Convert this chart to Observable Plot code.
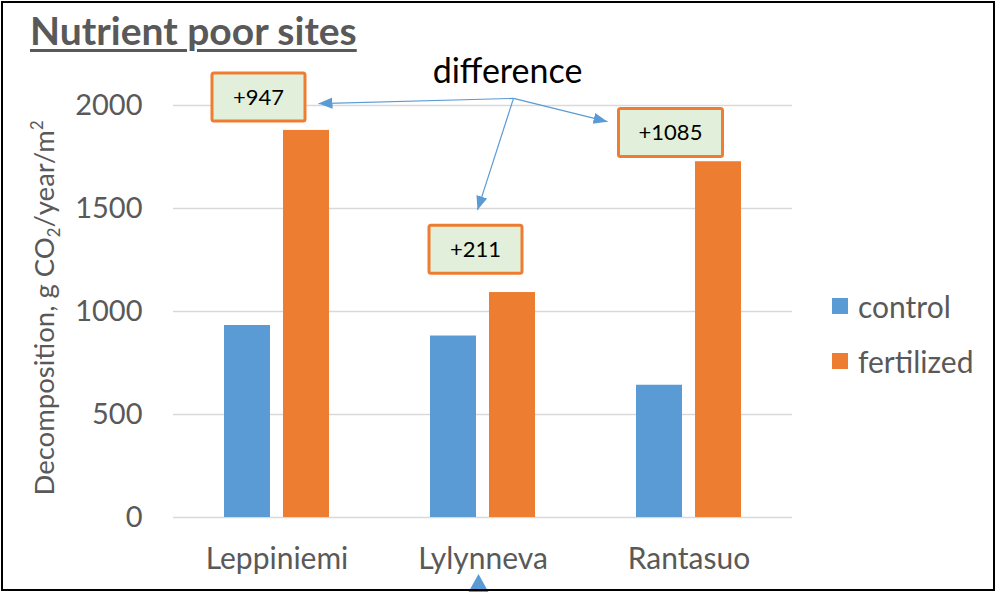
<!DOCTYPE html>
<html>
<head>
<meta charset="utf-8">
<script src="https://cdn.jsdelivr.net/npm/d3@7"></script>
<script src="https://cdn.jsdelivr.net/npm/@observablehq/plot@0.6"></script>
<style>
  body { margin: 0; background: #fff; }
  #wrap { position: relative; width: 999px; height: 593px; overflow: hidden; background: #fff; font-family: Lato, "Open Sans", sans-serif; }
  #chart { position: absolute; left: 0; top: 0; }
  #frame { position: absolute; left: 1px; top: 1px; width: 990px; height: 586px; border: 2px solid #000; pointer-events: none; }
  #title { position: absolute; left: 30px; top: 11px; font-size: 39px; line-height: 39px; font-weight: 700; color: #595959; text-decoration: underline; text-decoration-thickness: 3px; text-underline-offset: 4px; white-space: nowrap; }
  #ylabel { position: absolute; left: 43px; top: 308px; transform: translate(-50%, -50%) rotate(-90deg); white-space: nowrap; font-size: 27.5px; line-height: 27px; color: #595959; }
  #ylabel sub, #ylabel sup { font-size: 0.6em; line-height: 0; }
  #legend { position: absolute; left: 832px; top: 288px; color: #595959; font-size: 30px; }
  .li { display: flex; align-items: center; height: 36px; margin-bottom: 19px; white-space: nowrap; }
  .sw { width: 16px; height: 16px; margin-right: 10px; }
</style>
</head>
<body>
<div id="wrap">
  <div id="chart"></div>
  <div id="title">Nutrient poor sites</div>
  <div id="ylabel">Decomposition, g CO<sub>2</sub>/year/m<sup>2</sup></div>
  <div id="legend"></div>
  <div id="frame"></div>
</div>
<script>
// ---- data ----
const sites = ["Leppiniemi", "Lylynneva", "Rantasuo"];
const seriesNames = ["control", "fertilized"];
const controlValues = [932, 881, 642];
const fertilizedValues = [1879, 1092, 1727];
const yTicks = [0, 500, 1000, 1500, 2000];
const seriesColors = ["#5b9bd5", "#ed7d31"];

// annotation layout (value units for y, pixel nudges from band centre for x)
const boxSites = ["Leppiniemi", "Lylynneva", "Rantasuo"];
const boxValues = [2039, 1300, 1867];
const boxNudge = [-18, -7, -18];
const hub = { site: "Lylynneva", nudge: 31, value: 2032 };
const arrowSites = ["Leppiniemi", "Rantasuo", "Lylynneva"];
const arrowNudge = [42, -81, -5];
const arrowValues = [2007, 1919, 1490];
const diffLabel = "difference";

const rows = sites.flatMap((s, i) => [
  { site: s, series: seriesNames[0], value: controlValues[i] },
  { site: s, series: seriesNames[1], value: fertilizedValues[i] }
]);
const diffs = sites.map((s, i) => "+" + (fertilizedValues[i] - controlValues[i]));

function annotations(index, scales, values, dims) {
  const xs = scales.x, ys = scales.y;
  const bw = typeof xs.bandwidth === "function" ? xs.bandwidth() : (xs.bandwidth || 0);
  const cx = s => xs(s) + bw / 2;
  const blue = seriesColors[0], orange = seriesColors[1];
  const g = d3.create("svg:g");
  g.append("defs").append("marker")
    .attr("id", "diffArrowHead")
    .attr("viewBox", "0 -5 10 10").attr("refX", 10).attr("refY", 0)
    .attr("markerUnits", "userSpaceOnUse").attr("markerWidth", 14).attr("markerHeight", 14)
    .attr("orient", "auto")
    .append("path").attr("d", "M0,-4L10,0L0,4Z").attr("fill", blue);
  // difference label
  g.append("text")
    .attr("x", cx(hub.site) + 25).attr("y", ys(2107))
    .attr("text-anchor", "middle").attr("font-size", 34).attr("fill", "#000")
    .text(diffLabel);
  // arrows
  const hx = cx(hub.site) + hub.nudge, hy = ys(hub.value);
  arrowSites.forEach((s, i) => {
    g.append("line")
      .attr("x1", hx).attr("y1", hy)
      .attr("x2", cx(s) + arrowNudge[i]).attr("y2", ys(arrowValues[i]))
      .attr("stroke", blue).attr("stroke-width", 1.2)
      .attr("marker-end", "url(#diffArrowHead)");
  });
  // boxes
  boxSites.forEach((s, i) => {
    const label = diffs[sites.indexOf(s)];
    const w = 11 * label.length + 49, h = 48;
    const x0 = cx(s) + boxNudge[i], y0 = ys(boxValues[i]);
    g.append("rect")
      .attr("x", x0 - w / 2).attr("y", y0 - h / 2).attr("width", w).attr("height", h)
      .attr("rx", 2).attr("fill", "#e2efda").attr("stroke", orange).attr("stroke-width", 3);
    g.append("text")
      .attr("x", x0).attr("y", y0).attr("dy", "0.36em")
      .attr("text-anchor", "middle").attr("font-size", 22).attr("fill", "#000")
      .text(label);
  });
  // stray arrowhead at bottom edge
  const tx = cx("Lylynneva") - 4, H = dims.height;
  g.append("path")
    .attr("d", `M${tx},${H - 19}L${tx + 10},${H - 1}L${tx - 10},${H - 1}Z`)
    .attr("fill", blue);
  return g.node();
}

const chart = Plot.plot({
  width: 999,
  height: 593,
  marginLeft: 173,
  marginRight: 207,
  marginTop: 105,
  marginBottom: 76,
  style: { fontFamily: "Lato, 'Open Sans', sans-serif", color: "#595959", background: "transparent", overflow: "visible" },
  x: { domain: sites, paddingInner: 0.49, paddingOuter: 0.245, axis: null, label: null },
  y: { domain: [0, 2000], axis: null, label: null },
  color: { domain: seriesNames, range: seriesColors },
  marks: [
    Plot.gridY(yTicks, { stroke: "#d9d9d9", strokeOpacity: 1, strokeWidth: 1.5 }),
    Plot.axisY({ ticks: yTicks, tickFormat: d => String(d), tickSize: 0, tickPadding: 31, fontSize: 29, label: null }),
    Plot.axisX({ tickSize: 0, tickPadding: 30, fontSize: 30, label: null }),
    Plot.barY(rows.filter(d => d.series === seriesNames[0]), { x: "site", y: "value", fill: "series", insetRight: 59 }),
    Plot.barY(rows.filter(d => d.series === seriesNames[1]), { x: "site", y: "value", fill: "series", insetLeft: 59 }),
    annotations
  ]
});
document.getElementById("chart").appendChild(chart);

const legend = document.getElementById("legend");
seriesNames.forEach((name, i) => {
  const item = document.createElement("div");
  item.className = "li";
  item.innerHTML = `<div class="sw" style="background:${seriesColors[i]}"></div><span>${name}</span>`;
  legend.appendChild(item);
});
</script>
</body>
</html>
